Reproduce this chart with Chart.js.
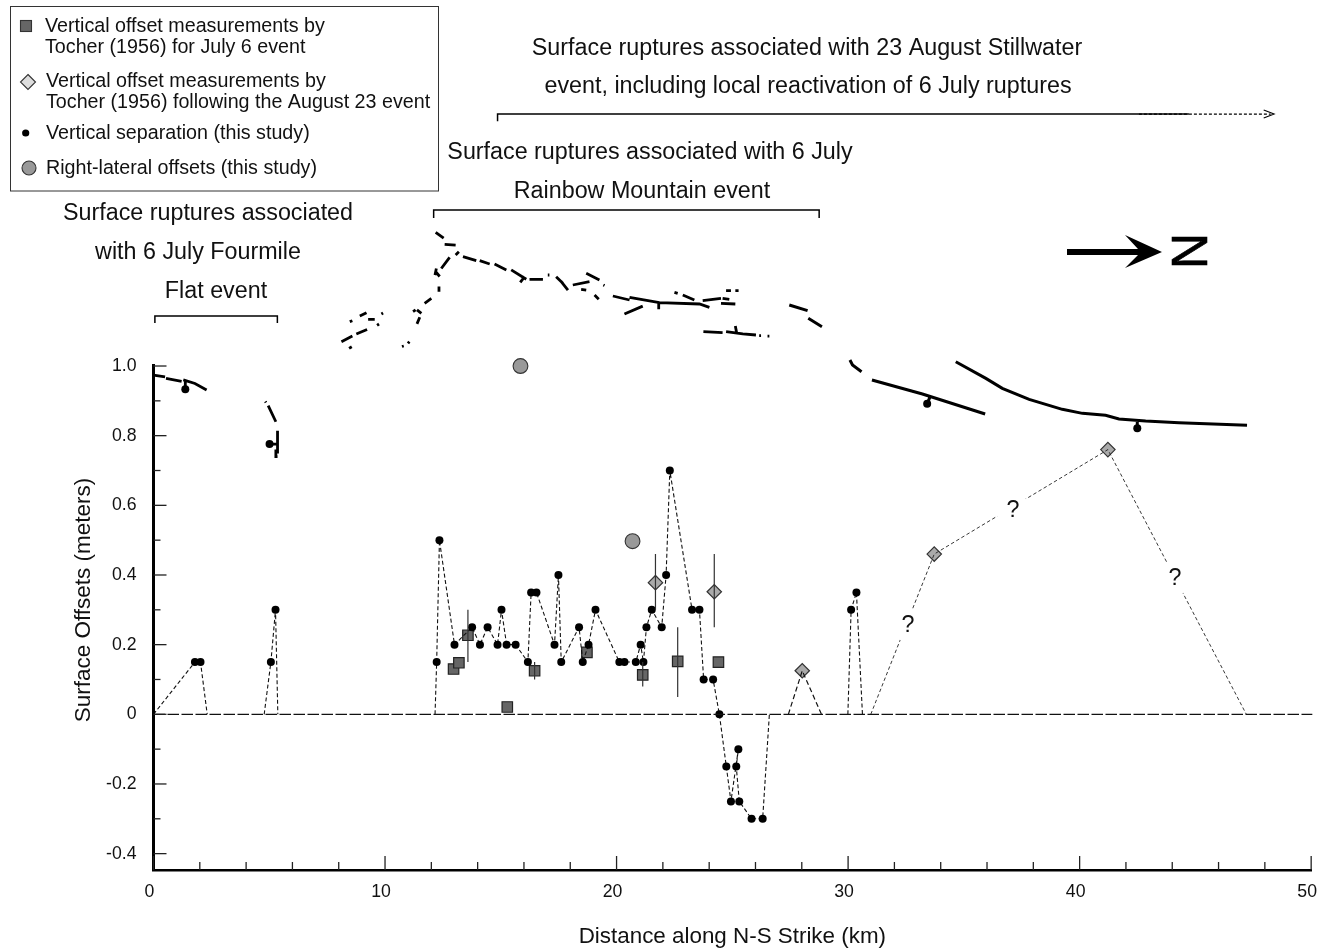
<!DOCTYPE html>
<html>
<head>
<meta charset="utf-8">
<title>Surface offsets along strike</title>
<script src="https://cdn.jsdelivr.net/npm/chart.js@4"></script>
<style>
  html, body { margin: 0; padding: 0; background: #fff; }
  canvas { display: block; }
</style>
</head>
<body>
<canvas id="myChart" width="1332" height="949"></canvas>
<script>
// vertical separation, null breaks the line, run ends sit on zero and get no dot
const sepX = [0, 1.79, 2.03, 2.32, null, 4.78, 5.07, 5.27, 5.37, null,
  12.16, 12.23, 12.35, 13.0, 13.76, 14.1, 14.43, 14.86, 15.03, 15.25, 15.64, 16.17, 16.31, 16.54,
  17.32, 17.49, 17.61, 18.38, 18.54, 18.79, 19.09, 20.12, 20.34, 20.83, 21.04, 21.16, 21.29, 21.52,
  21.95, 22.14, 22.3, 23.26, 23.58, 23.76, 24.17, 24.44, 24.74, 24.94, 25.26, 25.17, 25.3, 25.83, 26.31, 26.6, null,
  29.99, 30.13, 30.36, 30.62];
const sepY = [0, 0.15, 0.15, 0, null, 0, 0.15, 0.3, 0, null,
  0, 0.15, 0.5, 0.2, 0.25, 0.2, 0.25, 0.2, 0.3, 0.2, 0.2, 0.15, 0.35, 0.35,
  0.2, 0.4, 0.15, 0.25, 0.15, 0.2, 0.3, 0.15, 0.15, 0.15, 0.2, 0.15, 0.25, 0.3,
  0.25, 0.4, 0.7, 0.3, 0.3, 0.1, 0.1, 0, -0.15, -0.25, -0.1, -0.15, -0.25, -0.3, -0.3, 0, null,
  0, 0.3, 0.35, 0];

// Tocher 1956, July 6 event
const julyX = [12.96, 13.19, 13.58, 15.28, 16.46, 18.72, 21.13, 22.64, 24.4];
const julyY = [0.13, 0.148, 0.227, 0.021, 0.125, 0.178, 0.113, 0.152, 0.15];
const julyErrX = [13.58, 16.46, 21.13, 22.64];
const julyErrLow = [0.15, 0.1, 0.08, 0.05];
const julyErrHigh = [0.3, 0.15, 0.15, 0.25];

// Tocher 1956, after August 23
const augX = [21.68, 24.22, 28.02, 33.72, 41.22];
const augY = [0.378, 0.352, 0.125, 0.46, 0.76];
const augErrX = [21.68, 24.22];
const augErrLow = [0.3, 0.25];
const augErrHigh = [0.46, 0.46];
const augLinkX = [27.42, 28.02, 28.85];
const augLinkY = [0, 0.125, 0];
const augFarX = [30.98, 33.72, 41.22, 47.2];
const augFarY = [0, 0.46, 0.76, 0];

const lateralX = [15.85, 20.69];
const lateralY = [1.0, 0.497];

// fault traces
const brokenX = [0, 0.5, null, 0.54, 1.215, null, 1.287, 1.79, 2.294, null, 1.374, 1.374, null,
  4.83, 4.86, null, 4.954, 5.285, null, 5.357, 5.357, null, 5.285, 5.285, 5.357, null, 5.012, 5.357, null,
  12.187, 12.532, null, 12.575, 13.05, null, 13.05, 13.19, null, 12.79, 12.43, null, 12.216, 12.158, null, 12.187, 12.36, null,
  12.43, 12.46, null, 12.33, 12.33, null, 12.0, 11.71, null, 11.38, 11.57, null, 11.21, 11.32, null, 11.5, 11.38, null,
  11.05, 10.99, null, 10.81, 10.73, null,
  13.366, 13.94, null, 14.09, 14.52, null, 14.73, 15.24, null, 15.45, 16.1, null, 16.24, 16.82, null, 17.03, 17.1, null,
  17.39, 17.68, null, 17.61, 17.9, null, 18.11, 18.83, null, 18.69, 19.26, null, 19.43, 19.48, null, 18.47, 18.69, null,
  19.05, 19.23, null, 19.84, 20.56, null, 20.56, 21.85, 23.58, 24.01, null, 20.34, 21.13, null, 22.5, 22.64, null,
  22.86, 23.36, null, 23.72, 24.51, null, 24.58, 24.87, null, 24.51, 25.13, null, 24.73, 24.94, null, 25.13, 25.27, null,
  16.03, 15.84, null, 21.82, 21.82, null,
  23.75, 24.58, null, 24.73, 25.45, 26.02, null, 26.16, 26.24, null, 26.52, 26.6, null, 25.13, 25.19, null,
  8.117, 8.59, null, 8.76, 9.225, null, 8.477, 8.59, null, 8.91, 9.2, null, 9.27, 9.555, null, 9.656, 9.74, null, 9.843, 9.915, null, 8.448, 8.563];
const brokenY = [0.974, 0.969, null, 0.9645, 0.956, null, 0.96, 0.95, 0.931, null, 0.955, 0.933, null,
  0.898, 0.895, null, 0.886, 0.84, null, 0.814, 0.749, null, 0.76, 0.74, 0.74, null, 0.776, 0.776, null,
  1.384, 1.367, null, 1.349, 1.347, null, 1.319, 1.328, null, 1.312, 1.28, null, 1.28, 1.261, null, 1.271, 1.257, null,
  1.247, 1.247, null, 1.228, 1.213, null, 1.194, 1.18, null, 1.161, 1.151, null, 1.156, 1.161, null, 1.14, 1.121, null,
  1.07, 1.065, null, 1.0575, 1.056, null,
  1.314, 1.3025, null, 1.3025, 1.293, null, 1.293, 1.276, null, 1.276, 1.249, null, 1.249, 1.249, null, 1.2613, 1.2613, null,
  1.2565, 1.2374, null, 1.242, 1.218, null, 1.2326, 1.242, null, 1.266, 1.247, null, 1.2326, 1.231, null, 1.22, 1.218, null,
  1.204, 1.192, null, 1.201, 1.1895, null, 1.197, 1.182, 1.178, 1.1685, null, 1.1493, 1.172, null, 1.2115, 1.2087, null,
  1.204, 1.1895, null, 1.1876, 1.194, null, 1.194, 1.191, null, 1.18, 1.178, null, 1.2163, 1.2163, null, 1.2163, 1.2163, null,
  1.2565, 1.2402, null, 1.182, 1.1627, null,
  1.0986, 1.0957, null, 1.0986, 1.092, 1.089, null, 1.0871, 1.0871, null, 1.086, 1.086, null, 1.115, 1.094, null,
  1.07, 1.086, null, 1.092, 1.105, null, 1.1273, 1.13, null, 1.1436, 1.153, null, 1.134, 1.134, null, 1.1168, 1.1206, null, 1.1493, 1.152, null, 1.0508, 1.0555];
const solidX = [27.46, 28.25, null, 28.28, 28.87, null, 30.08, 30.19, 30.58, null, 31.03, 33.21, 35.92, null,
  34.65, 35.95, 36.66, 37.82, 39.25, 40.12, 41.12, 41.7, 42.85, 44.29, 47.23, null, 33.53, 33.415, null, 42.49, 42.49];
const solidY = [1.1752, 1.1589, null, 1.1369, 1.113, null, 1.0172, 1.0029, 0.9837, null, 0.9598, 0.9196, 0.8622, null,
  1.0124, 0.9646, 0.9359, 0.9043, 0.8756, 0.8641, 0.8584, 0.8478, 0.8421, 0.8373, 0.8296, null, 0.91, 0.8919, null, 0.842, 0.821];
const traceDotX = [1.374, 5.012, 15.84, 21.82, 25.13, 33.415, 42.49];
const traceDotY = [0.933, 0.776, 1.2402, 1.1627, 1.115, 0.8919, 0.821];

// event brackets above the plot
const bracketX = [0.06, 0.06, 5.35, 5.35, null, 12.1, 12.1, 28.75, 28.75, null, 14.86, 14.86, 44.72];
const bracketY = [1.1235, 1.1436, 1.1436, 1.1235, null, 1.425, 1.448, 1.448, 1.425, null, 1.703, 1.7233, 1.7233];
const arrowDashX = [42.56, 48.25];
const arrowDashY = [1.7233, 1.7233];
const arrowHeadX = [47.95, 48.4, 47.95];
const arrowHeadY = [1.7348, 1.7233, 1.7118];

const zeroX = [0, 50.05];
const zeroY = [0, 0];
const yAxisX = [0, 0];
const yAxisY = [-0.447, 1.006];

const xTickLabels = [0, 10, 20, 30, 40, 50];
const yTickLabels = [-0.4, -0.2, 0, 0.2, 0.4, 0.6, 0.8, 1.0];
const xMinorTicks = [2, 4, 6, 8, 12, 14, 16, 18, 22, 24, 26, 28, 32, 34, 36, 38, 42, 44, 46, 48];
const yMinorTicks = [-0.3, -0.1, 0.1, 0.3, 0.5, 0.7, 0.9];

const FONT = '"Liberation Sans", Arial, sans-serif';

function pts(xs, ys) {
  return xs.map((x, i) => ({ x: x === null ? NaN : x, y: ys[i] === null ? NaN : ys[i] }));
}
function errBars(xs, low, high) {
  let out = [];
  xs.forEach((x, i) => {
    out.push({ x: x, y: low[i] }, { x: x, y: high[i] }, { x: NaN, y: NaN });
  });
  return out;
}
function lineSet(data, color, width, dash) {
  return { data: data, showLine: true, borderColor: color, borderWidth: width, borderDash: dash || [],
    pointRadius: 0, clip: false, tension: 0, borderCapStyle: 'butt', borderJoinStyle: 'miter' };
}
function markSet(data, style, radius, fill, stroke, width) {
  return { data: data, showLine: false, pointStyle: style, pointRadius: radius, backgroundColor: fill,
    borderColor: stroke, borderWidth: width, clip: false };
}

const sepLine = lineSet(pts(sepX, sepY), '#111', 1.1, [4, 2.5]);
// dot on every point apart from the two ends of a run
sepLine.pointRadius = (ctx) => {
  const i = ctx.dataIndex;
  const run = (k) => k >= 0 && k < sepX.length && sepX[k] !== null;
  return run(i - 1) && run(i + 1) ? 4 : 0;
};
sepLine.pointBackgroundColor = '#000';
sepLine.pointBorderColor = '#000';
sepLine.pointBorderWidth = 0;

const datasets = [
  lineSet(pts(zeroX, zeroY), '#111', 1.2, [11.5, 2.5]),
  lineSet(pts(yAxisX, yAxisY), '#000', 3),
  lineSet(errBars(julyErrX, julyErrLow, julyErrHigh), '#333', 1.2),
  lineSet(errBars(augErrX, augErrLow, augErrHigh), '#333', 1.2),
  sepLine,
  lineSet(pts(augLinkX, augLinkY), '#111', 1.2, [5, 3]),
  lineSet(pts(augFarX, augFarY), '#222', 0.9, [3.5, 2.5]),
  lineSet(pts(brokenX, brokenY), '#000', 2.8),
  lineSet(pts(solidX, solidY), '#000', 3),
  lineSet(pts(bracketX, bracketY), '#000', 1.5),
  lineSet(pts(arrowDashX, arrowDashY), '#000', 1.4, [3, 2]),
  lineSet(pts(arrowHeadX, arrowHeadY), '#000', 1.1),
  markSet(pts(traceDotX, traceDotY), 'circle', 4, '#000', '#000', 0),
  markSet(pts(julyX, julyY), 'rect', 7.4, '#666', '#222', 1.2),
  markSet(pts(augX, augY), 'rectRot', 7.2, '#aaa', '#333', 1.2),
  markSet(pts(lateralX, lateralY), 'circle', 7.4, '#999', '#333', 1.1)
];

// text placed over the plot, centred
const notes = [
  { text: 'Surface ruptures associated with 23 August Stillwater', x: 807, y: 48.5 },
  { text: 'event, including local reactivation of 6 July ruptures', x: 808, y: 86.5 },
  { text: 'Surface ruptures associated with 6 July', x: 650, y: 152.5 },
  { text: 'Rainbow Mountain event', x: 642, y: 191.5 },
  { text: 'Surface ruptures associated', x: 208, y: 213.5 },
  { text: 'with 6 July Fourmile', x: 198, y: 252.5 },
  { text: 'Flat event', x: 216, y: 291.5 }
];
const queries = [{ x: 908, y: 626 }, { x: 1013, y: 511 }, { x: 1175, y: 579 }];
const legendLines = [
  { text: 'Vertical offset measurements by', x: 45, y: 27 },
  { text: 'Tocher (1956) for July 6 event', x: 45, y: 48 },
  { text: 'Vertical offset measurements by', x: 46, y: 82 },
  { text: 'Tocher (1956) following the August 23 event', x: 46, y: 103 },
  { text: 'Vertical separation (this study)', x: 46, y: 134 },
  { text: 'Right-lateral offsets (this study)', x: 46, y: 169 }
];

const overlay = {
  id: 'overlay',
  afterDatasetsDraw(chart) {
    const c = chart.ctx;
    const sx = chart.scales.x, sy = chart.scales.y;
    const bottom = chart.chartArea.bottom, left = chart.chartArea.left;
    c.save();

    // inward ticks
    c.strokeStyle = '#222';
    c.lineWidth = 1.3;
    function xTick(v, len) {
      const p = sx.getPixelForValue(v);
      c.beginPath(); c.moveTo(p, bottom); c.lineTo(p, bottom - len); c.stroke();
    }
    function yTick(v, len) {
      const p = sy.getPixelForValue(v);
      c.beginPath(); c.moveTo(left, p); c.lineTo(left + len, p); c.stroke();
    }
    xMinorTicks.forEach((v) => xTick(v, 8));
    xTickLabels.forEach((v) => xTick(v, 14));
    yMinorTicks.forEach((v) => yTick(v, 7));
    yTickLabels.forEach((v) => yTick(v, 13));

    c.fillStyle = '#111';
    c.textBaseline = 'middle';
    c.textAlign = 'center';
    c.font = '23.3px ' + FONT;
    notes.forEach((n) => c.fillText(n.text, n.x, n.y));

    // question marks break the dashed line
    queries.forEach((q) => {
      c.fillStyle = '#fff';
      c.beginPath(); c.arc(q.x, q.y - 1, 17, 0, Math.PI * 2); c.fill();
      c.fillStyle = '#111';
      c.fillText('?', q.x, q.y);
    });

    // north arrow
    c.fillStyle = '#000';
    c.strokeStyle = '#000';
    c.beginPath();
    c.moveTo(1067, 249); c.lineTo(1138, 249); c.lineTo(1125, 235); c.lineTo(1162, 252);
    c.lineTo(1125, 268); c.lineTo(1138, 255); c.lineTo(1067, 255); c.closePath();
    c.fill();
    c.save();
    c.translate(1188, 251);
    c.rotate(Math.PI / 2);
    c.font = '50px ' + FONT;
    c.lineWidth = 0.6;
    c.fillText('N', 0, 2);
    c.strokeText('N', 0, 2);
    c.restore();

    // legend box
    c.fillStyle = '#fff';
    c.strokeStyle = '#333';
    c.lineWidth = 1;
    c.fillRect(10.5, 6.5, 428, 184.5);
    c.strokeRect(10.5, 6.5, 428, 184.5);
    c.lineWidth = 1.1;
    c.fillStyle = '#666';
    c.fillRect(20.5, 20.5, 11, 11); c.strokeRect(20.5, 20.5, 11, 11);
    c.fillStyle = '#ddd';
    c.beginPath();
    c.moveTo(28, 74.5); c.lineTo(35.5, 82); c.lineTo(28, 89.5); c.lineTo(20.5, 82); c.closePath();
    c.fill(); c.stroke();
    c.fillStyle = '#000';
    c.beginPath(); c.arc(25.7, 133, 3.6, 0, Math.PI * 2); c.fill();
    c.fillStyle = '#999';
    c.beginPath(); c.arc(29, 168, 7, 0, Math.PI * 2); c.fill(); c.stroke();
    c.fillStyle = '#111';
    c.textAlign = 'left';
    c.font = '19.7px ' + FONT;
    legendLines.forEach((l) => c.fillText(l.text, l.x, l.y));
    c.restore();
  }
};

const ctx = document.getElementById('myChart').getContext('2d');
const myChart = new Chart(ctx, {
  type: 'scatter',
  data: { datasets: datasets },
  plugins: [overlay],
  options: {
    responsive: false,
    animation: false,
    layout: { padding: { top: 330, right: 20, left: 0, bottom: 0 } },
    plugins: { legend: { display: false }, tooltip: { enabled: false }, title: { display: false } },
    scales: {
      x: {
        type: 'linear', min: 0, max: 50,
        grid: { display: false, drawTicks: false },
        border: { display: true, color: '#000', width: 2.6 },
        afterFit: (scale) => { scale.height = 79; },
        afterBuildTicks: (scale) => { scale.ticks = xTickLabels.map((v) => ({ value: v })); },
        ticks: { color: '#111', font: { family: FONT, size: 17.7 }, padding: 11, labelOffset: -4,
          maxRotation: 0, autoSkip: false, callback: (v) => String(v) },
        title: { display: true, text: 'Distance along N-S Strike (km)', color: '#111',
          font: { family: FONT, size: 22.4 }, padding: { top: 0, bottom: -1 } }
      },
      y: {
        type: 'linear', min: -0.447, max: 1.1034,
        grid: { display: false, drawTicks: false },
        border: { display: false },
        afterFit: (scale) => { scale.width = 153.5; },
        afterBuildTicks: (scale) => { scale.ticks = yTickLabels.map((v) => ({ value: v })); },
        ticks: { color: '#111', font: { family: FONT, size: 17.7 }, padding: 17, labelOffset: 0,
          autoSkip: false, callback: (v) => (v === 0 ? '0' : v.toFixed(1)) },
        title: { display: true, text: 'Surface Offsets (meters)', color: '#111',
          font: { family: FONT, size: 22.5 }, padding: { top: 70, bottom: 0 } }
      }
    }
  }
});
</script>
</body>
</html>
